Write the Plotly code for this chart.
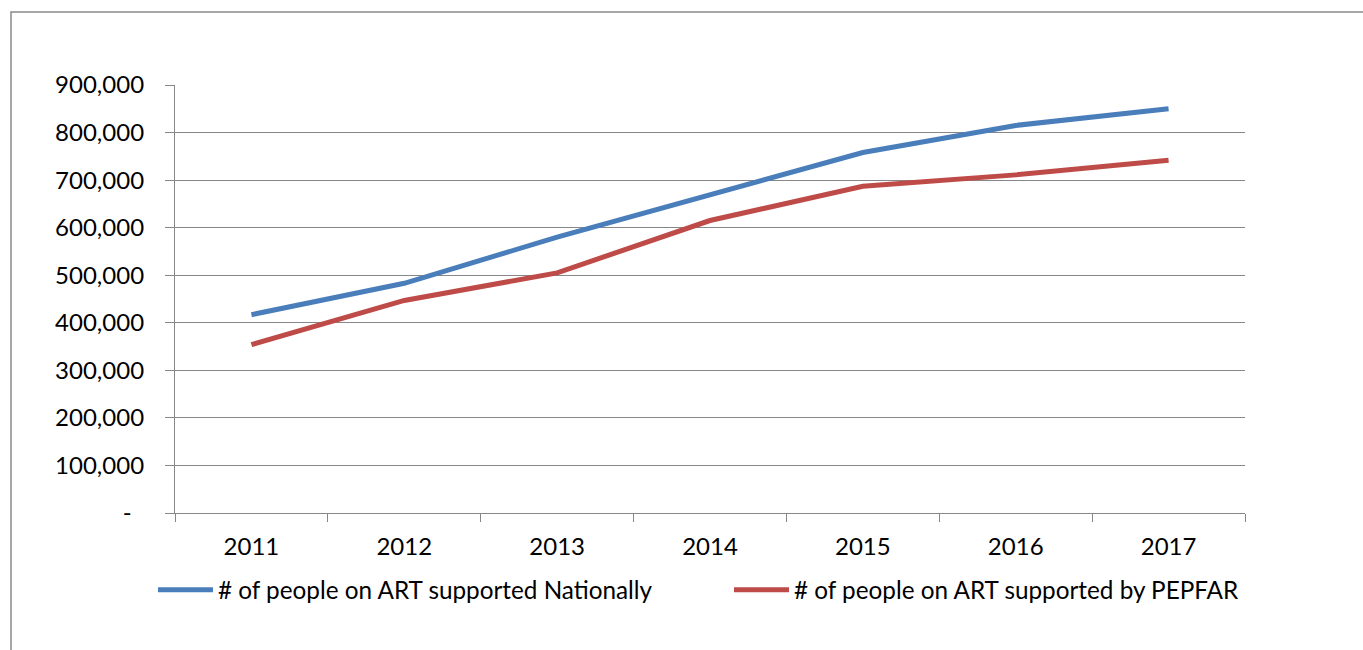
import plotly.graph_objects as go

years = ["2011", "2012", "2013", "2014", "2015", "2016", "2017"]
national = [417000, 483000, 580000, 669000, 758000, 815000, 850000]
pepfar = [354000, 447000, 505000, 615000, 687000, 711000, 742000]
name_national = "# of people on ART supported Nationally"
name_pepfar = "# of people on ART supported by PEPFAR"
ytick_vals = [0, 100000, 200000, 300000, 400000, 500000, 600000, 700000, 800000, 900000]
ytick_text = ["-\u00a0\u00a0"] + [f"{v:,}" for v in ytick_vals[1:]]

FONT = "Lato"
GRID = "#878787"

fig = go.Figure()
fig.add_trace(go.Scatter(x=years, y=national, name=name_national, mode="lines",
                         line=dict(color="#4A7EBB", width=5)))
fig.add_trace(go.Scatter(x=years, y=pepfar, name=name_pepfar, mode="lines",
                         line=dict(color="#BE4B48", width=5)))

L, R, T, B = 175, 1363 - 1245, 85, 650 - 513.5
W, H = 1363, 650
pw, ph = W - L - R, H - T - B

def px2x(px):
    return (px - L) / pw

def py2y(py):
    return (H - B - py) / ph

fig.update_layout(
    width=W, height=H,
    margin=dict(l=L, r=R, t=T, b=B, pad=0),
    paper_bgcolor="white", plot_bgcolor="white",
    font=dict(family=FONT, size=24, color="#000000"),
    showlegend=True,
    legend=dict(orientation="h", x=px2x(153), y=py2y(568), xanchor="left", yanchor="top",
                font=dict(family=FONT, size=24.3, color="#000000"),
                itemwidth=55, entrywidth=506, entrywidthmode="pixels",
                bgcolor="rgba(0,0,0,0)", borderwidth=0),
    xaxis=dict(type="category", range=[-0.5, 6.5], tickson="boundaries", ticks="outside", ticklen=8,
               tickcolor=GRID, tickwidth=1.3, showline=True, linecolor=GRID, linewidth=1.3,
               showgrid=False, tickfont=dict(family=FONT, size=24), ticklabelstandoff=12,
               fixedrange=True),
    yaxis=dict(range=[0, 900000], tickvals=ytick_vals, ticktext=ytick_text,
               ticks="outside", ticklen=9, tickcolor=GRID, tickwidth=1.3,
               showline=True, linecolor=GRID, linewidth=1.3,
               showgrid=True, gridcolor=GRID, gridwidth=1.3, zeroline=False,
               tickfont=dict(family=FONT, size=24), ticklabelstandoff=16,
               fixedrange=True),
    shapes=[dict(type="rect", xref="paper", yref="paper",
                 x0=px2x(11), y0=py2y(720), x1=px2x(1420), y1=py2y(12),
                 line=dict(color="#8a8a8a", width=1.5), fillcolor="rgba(0,0,0,0)", layer="below")],
)

fig.write_html("out.html", config={"displayModeBar": False})
